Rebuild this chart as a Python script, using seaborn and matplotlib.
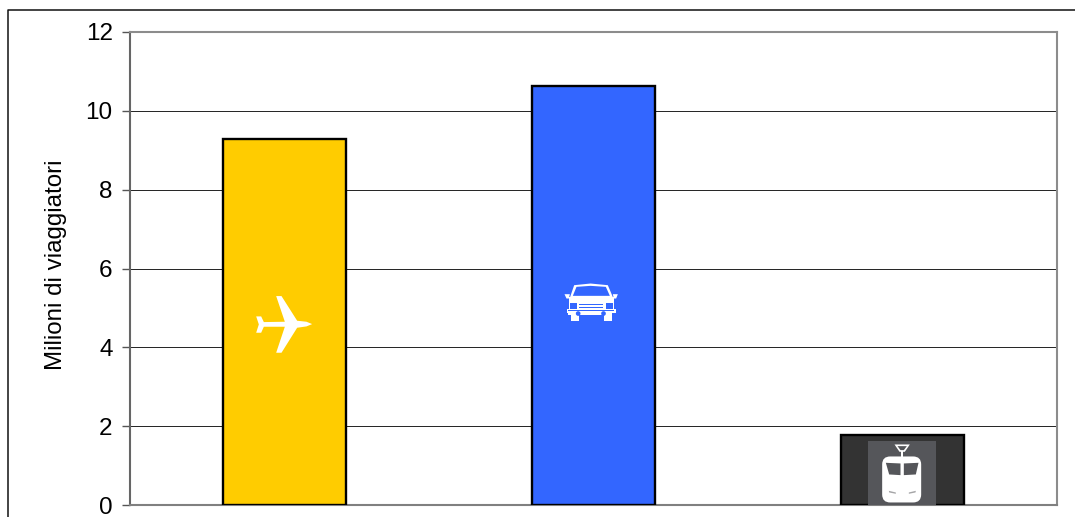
import matplotlib
matplotlib.use("Agg")
import matplotlib.pyplot as plt
from matplotlib.lines import Line2D
from matplotlib.patches import Polygon, Rectangle, Circle, FancyBboxPatch
from matplotlib.transforms import Affine2D
import pandas as pd
import seaborn as sns

# Passengers per transport mode, in millions
modes = ["Aereo", "Auto", "Treno"]
passengers = [9.29, 10.62, 1.78]
bar_colors = ["#FFCC00", "#3366FF", "#333333"]
y_ticks = [0, 2, 4, 6, 8, 10, 12]
y_title = "Milioni di viaggiatori"

W, H = 1075, 517
sns.set_theme(style="white")
plt.rcParams["font.family"] = ["Liberation Sans", "DejaVu Sans"]

fig = plt.figure(figsize=(W / 100, H / 100), dpi=100, facecolor="white")
ax = fig.add_axes([130 / W, 1 - 505 / H, 927 / W, 473 / H])

table = pd.DataFrame({"mode": modes, "passengers": passengers})
sns.barplot(data=table, x="mode", y="passengers", hue="mode", palette=bar_colors,
            legend=False, width=0.4, saturation=1, edgecolor="black",
            linewidth=1.7, ax=ax, zorder=3)

ax.set_xlim(-0.5, 2.5)
ax.set_ylim(0, 12)
ax.set_yticks(y_ticks)
ax.set_xticks([])
ax.set_xlabel("")
ax.set_ylabel(y_title, fontsize=17.4, color="black")
ax.yaxis.set_label_coords(-0.0685, 0.507)
ax.tick_params(axis="y", length=6, width=1.0, color="#555555", labelsize=17.5,
               labelcolor="black", pad=6.5, left=True)
ax.yaxis.grid(True, color="#222222", linewidth=0.7)
ax.set_axisbelow(True)
for side, colour in [("top", "#8C8C8C"), ("right", "#8C8C8C"),
                     ("bottom", "#808080"), ("left", "#666666")]:
    ax.spines[side].set_visible(True)
    ax.spines[side].set_color(colour)
    ax.spines[side].set_linewidth(1.5)

# Outer frame: only the top and left edges fall inside the canvas
frame_x = [7.5 / W, 7.5 / W, 1.0]
frame_y = [0.0, 1 - 10 / H, 1 - 10 / H]
fig.add_artist(Line2D(frame_x, frame_y, color="#111111", linewidth=1.1))


def icon_transform(index, value, dx, cx, cy):
    """Icon outlines use a 3x pixel grid centred on (cx, cy), y downwards."""
    px, py = ax.transData.transform((index, value))
    return (Affine2D().translate(-cx, -cy).scale(1 / 3, -1 / 3)
            .translate(px + dx, py))


def add_poly(points, colour, tr, z=5):
    ax.add_patch(Polygon(points, closed=True, facecolor=colour, edgecolor="none",
                         transform=tr, clip_on=False, zorder=z))


def add_rect(x0, y0, x1, y1, colour, tr, z=5):
    ax.add_patch(Rectangle((x0, y0), x1 - x0, y1 - y0, facecolor=colour,
                           edgecolor="none", transform=tr, clip_on=False, zorder=z))


# Aeroplane symbol
plane = icon_transform(0, 4.59, 0, 192, 162)
add_poly([(275, 162), (258, 155), (230, 152), (183, 78), (167, 78), (193, 155),
          (130, 156), (122, 139), (107, 139), (115, 163), (107, 188), (122, 188),
          (130, 170), (193, 170), (167, 248), (183, 248), (230, 173), (258, 169)],
         "white", plane)

# Car symbol, front view
car = icon_transform(1, 5.12, -3, 180, 130)
blue, white = bar_colors[1], "white"
add_poly([(118, 114), (131, 76), (180, 71), (232, 76), (248, 114)], white, car)
add_poly([(127, 108), (138, 81), (180, 78), (226, 81), (238, 108)], blue, car, 6)
add_poly([(102, 103), (118, 103), (115, 116), (108, 116)], white, car)
add_poly([(247, 103), (262, 103), (257, 116), (250, 116)], white, car)
add_rect(114, 110, 249, 150, white, car)
add_rect(118, 130, 138, 146, blue, car, 6)
add_rect(225, 130, 247, 146, blue, car, 6)
add_rect(145, 132, 218, 136, blue, car, 6)
add_rect(145, 140, 218, 143, blue, car, 6)
add_rect(108, 147, 255, 158, white, car)
add_rect(113, 150, 250, 152, blue, car, 6)
add_rect(113, 157, 245, 165, white, car)
add_rect(120, 164, 144, 184, white, car)
add_rect(220, 164, 245, 184, white, car)
for wheel_x in (143, 219):
    ax.add_patch(Circle((wheel_x, 161), 7, facecolor=blue, edgecolor="none",
                        transform=car, clip_on=False, zorder=6))

# Train symbol on its grey tile
train = icon_transform(2, 0.80, -1, 213, 145)
add_rect(111, 48, 315, 241, "#55565A", train, 4)
ax.add_patch(FancyBboxPatch((161, 100), 105, 126, boxstyle="round,pad=6,rounding_size=24",
                            facecolor="white", edgecolor="none", transform=train,
                            clip_on=False, zorder=5))
add_poly([(166, 113), (210, 115), (210, 150), (176, 148)], "#55565A", train, 6)
add_poly([(220, 115), (264, 113), (256, 148), (220, 150)], "#55565A", train, 6)
add_poly([(175, 197), (196, 202), (196, 206), (176, 202)], "#A5A5A7", train, 6)
add_poly([(235, 202), (256, 197), (255, 202), (235, 206)], "#A5A5A7", train, 6)
add_rect(212, 76, 218, 96, "white", train)
add_poly([(192, 58), (238, 58), (223, 80), (207, 80)], "white", train)
add_poly([(201, 63), (229, 63), (220, 75), (210, 75)], "#55565A", train, 6)

fig.savefig("out.png", dpi=100, facecolor="white")
